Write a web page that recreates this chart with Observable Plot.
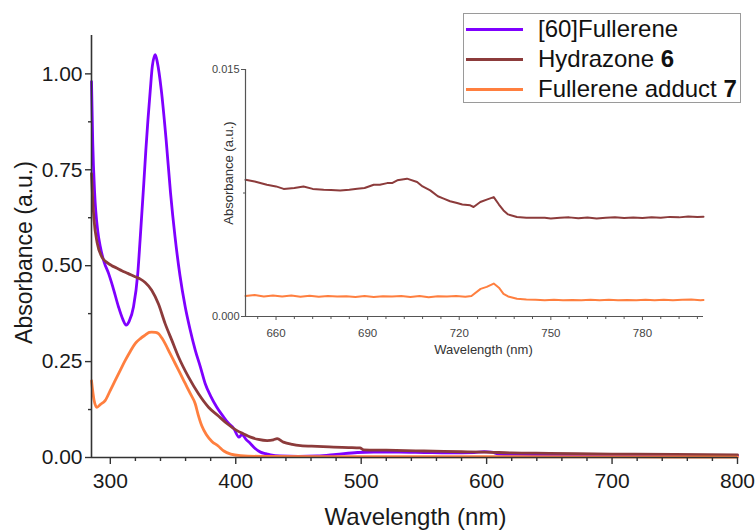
<!DOCTYPE html>
<html>
<head>
<meta charset="utf-8">
<script src="https://cdn.jsdelivr.net/npm/d3@7"></script>
<script src="https://cdn.jsdelivr.net/npm/@observablehq/plot@0.6"></script>
<style>
  html, body { margin: 0; padding: 0; background: #fff; }
  #wrap { position: relative; width: 756px; height: 531px; font-family: "Liberation Sans", Arial, sans-serif; }
  #wrap svg { position: absolute; overflow: visible; }
  #legend { position: absolute; left: 463px; top: 13px; width: 278px; height: 90px; border: 1px solid #9a9a9a; box-sizing: border-box; background: #fff; }
  .row { height: 30px; display: flex; align-items: center; font-size: 24px; color: #111; white-space: nowrap; }
  .sw { width: 57px; height: 3px; margin-left: 2px; margin-right: 15px; }
</style>
</head>
<body>
<div id="wrap"></div>
<script>
// ---------- data ----------
const seriesNames = ["[60]Fullerene", "Hydrazone 6", "Fullerene adduct 7"];
const seriesColors = ["#7f00ff", "#8c3b3b", "#ff7f3f"];

const fullereneNm = [285, 286, 287.5, 290, 292, 295, 298.6, 302, 306.5, 310, 312.6, 315, 318.5, 321.9, 323.8, 326.7, 328.3, 330, 331.8, 333.5, 335.8, 337.5, 340.6, 344.5, 348, 351.6, 355.5, 359.7, 363.5, 367.7, 371.9, 375.6, 380, 384.9, 390.5, 394, 398.5, 402.5, 405, 408, 411.8, 415, 419.7, 424, 427.7, 435, 450, 465, 480, 497, 510, 530, 550, 570, 590, 598, 604, 610, 625, 650, 700, 750, 800];
const fullereneAbs = [0.98, 0.82, 0.69, 0.59, 0.55, 0.51, 0.48, 0.445, 0.393, 0.36, 0.345, 0.355, 0.393, 0.48, 0.57, 0.715, 0.8, 0.88, 0.955, 1.02, 1.05, 1.03, 0.959, 0.828, 0.69, 0.575, 0.475, 0.393, 0.335, 0.28, 0.235, 0.193, 0.16, 0.131, 0.105, 0.09, 0.075, 0.053, 0.06, 0.048, 0.036, 0.025, 0.014, 0.01, 0.007, 0.004, 0.003, 0.004, 0.008, 0.013, 0.014, 0.014, 0.013, 0.012, 0.013, 0.015, 0.014, 0.009, 0.008, 0.007, 0.006, 0.005, 0.005];

const hydrazoneNm = [285, 286, 287, 289.5, 293.2, 297.5, 301.2, 305, 309.2, 314, 319.8, 324, 327.8, 333, 338.4, 343.7, 349, 354.4, 362.3, 370.3, 378.3, 386.2, 393.2, 401, 406, 411.8, 418, 425, 430, 433, 438, 445, 451.6, 465, 478, 490, 499, 502, 520, 550, 580, 600, 620, 650, 700, 750, 800];
const hydrazoneAbs = [0.74, 0.67, 0.62, 0.56, 0.523, 0.508, 0.5, 0.494, 0.487, 0.48, 0.471, 0.465, 0.456, 0.436, 0.4, 0.349, 0.306, 0.262, 0.21, 0.166, 0.131, 0.108, 0.088, 0.07, 0.062, 0.053, 0.047, 0.044, 0.046, 0.049, 0.04, 0.034, 0.031, 0.029, 0.027, 0.026, 0.025, 0.02, 0.019, 0.017, 0.015, 0.014, 0.012, 0.011, 0.009, 0.008, 0.007];

const adductNm = [285, 287, 289.3, 292, 296, 300, 303.9, 308, 311.9, 316, 319.8, 324, 327.8, 331, 333, 336, 338.4, 341, 343.7, 347.5, 351.7, 355.7, 359.7, 363.7, 367.7, 370, 373, 376.5, 381, 386, 390.5, 396, 403.8, 420, 500, 600, 700, 800];
const adductAbs = [0.2, 0.15, 0.131, 0.138, 0.149, 0.175, 0.201, 0.228, 0.253, 0.277, 0.297, 0.31, 0.319, 0.326, 0.327, 0.326, 0.323, 0.312, 0.297, 0.272, 0.245, 0.219, 0.193, 0.167, 0.14, 0.112, 0.082, 0.06, 0.042, 0.03, 0.017, 0.009, 0.005, 0.003, 0.002, 0.002, 0.0015, 0.001];

// inset (650–800 nm)
const insetHydrazoneNm = [650, 653, 657, 660, 662.5, 666, 669, 672, 675.6, 678, 681, 684, 686.6, 689, 692, 694, 696.4, 698, 699.7, 702.9, 706.2, 708, 710.5, 713, 714.9, 717, 719.3, 721, 723.6, 724.7, 726.9, 729, 731.3, 733, 734.5, 736, 738.9, 742, 745.5, 748, 750, 753, 756, 759, 762, 765, 768, 771, 774, 777, 780, 783, 786, 789, 792, 795, 798, 800];
const insetHydrazoneAbs = [0.0083, 0.0082, 0.008, 0.0079, 0.00775, 0.0078, 0.0079, 0.00775, 0.0077, 0.00768, 0.00765, 0.0077, 0.00776, 0.0078, 0.008, 0.008, 0.0081, 0.0081, 0.00827, 0.00837, 0.00817, 0.0079, 0.00766, 0.0073, 0.00716, 0.007, 0.00689, 0.0068, 0.00675, 0.00665, 0.00695, 0.0071, 0.00725, 0.0068, 0.00644, 0.0062, 0.00604, 0.006, 0.006, 0.006, 0.00595, 0.006, 0.00602, 0.00597, 0.00601, 0.00595, 0.006, 0.00603, 0.00598, 0.00601, 0.00598, 0.00603, 0.006, 0.00605, 0.00602, 0.00607, 0.00604, 0.00606];

const insetAdductNm = [650, 653, 656, 659, 662, 665, 668, 671, 674, 677, 680, 683, 686, 689, 692, 695, 698, 701, 704, 707, 710, 713, 716, 719, 722, 724, 727, 729, 731.3, 733, 734.5, 736, 738.9, 742, 745, 748, 751, 754, 757, 760, 763, 766, 769, 772, 775, 778, 781, 784, 787, 790, 793, 796, 799, 800];
const insetAdductAbs = [0.00125, 0.0013, 0.00122, 0.00128, 0.00122, 0.00127, 0.0012, 0.00126, 0.0012, 0.00124, 0.00121, 0.00123, 0.00118, 0.00124, 0.00119, 0.00123, 0.00121, 0.00124, 0.00119, 0.00124, 0.00117, 0.00123, 0.00121, 0.00124, 0.0012, 0.00125, 0.00168, 0.0018, 0.002, 0.00175, 0.00138, 0.00122, 0.00108, 0.00103, 0.00101, 0.00098, 0.00101, 0.00098, 0.001, 0.00098, 0.00101, 0.00099, 0.00101, 0.00098, 0.001, 0.00098, 0.00101, 0.00099, 0.00102, 0.00099, 0.00101, 0.00103, 0.00099, 0.001];

const mainXTicks = [300, 400, 500, 600, 700, 800];
const mainXMinor = d3.range(300, 801, 20);
const mainYTicks = [0, 0.25, 0.5, 0.75, 1.0];
const mainYMinor = [0.125, 0.375, 0.625, 0.875];
const insetXTicks = [660, 690, 720, 750, 780];
const insetXMinor = d3.range(654, 800, 6);
const insetYTicks = [0, 0.015];
const insetYMinor = [0.0075];

// ---------- build tables ----------
const toRows = (nm, ab, s) => nm.map((x, i) => ({nm: x, a: ab[i], s}));
const mainData = [
  ...toRows(fullereneNm, fullereneAbs, seriesNames[0]),
  ...toRows(hydrazoneNm, hydrazoneAbs, seriesNames[1]),
  ...toRows(adductNm, adductAbs, seriesNames[2])
];
const insetData = [
  ...toRows(insetHydrazoneNm, insetHydrazoneAbs, seriesNames[1]),
  ...toRows(insetAdductNm, insetAdductAbs, seriesNames[2])
];
const color = {domain: seriesNames, range: seriesColors};
const axisColor = "#333";
const font = "Liberation Sans, Arial, sans-serif";

const main = Plot.plot({
  width: 756, height: 531,
  marginLeft: 91, marginRight: 19, marginTop: 35, marginBottom: 74,
  style: {fontFamily: font, color: "#1a1a1a", background: "transparent"},
  x: {domain: [285, 800]},
  y: {domain: [0, 1.1]},
  color,
  marks: [
    Plot.lineY(mainData, {x: "nm", y: "a", z: "s", stroke: "s", strokeWidth: 2.8, curve: "monotone-x"}),
    Plot.ruleY([0], {stroke: axisColor, strokeWidth: 1.6}),
    Plot.ruleX([285], {stroke: axisColor, strokeWidth: 1.6}),
    Plot.axisX({ticks: mainXTicks, tickSize: 7, tickPadding: 9, fontSize: 21, label: null, stroke: axisColor, strokeWidth: 1.4}),
    Plot.axisX({ticks: mainXMinor.filter(d => !mainXTicks.includes(d)), tickSize: 4, tickFormat: () => "", label: null, stroke: axisColor, strokeWidth: 1.4}),
    Plot.axisY({ticks: mainYTicks, tickSize: 6, tickPadding: 3, fontSize: 21, tickFormat: d3.format(".2f"), label: null, stroke: axisColor, strokeWidth: 1.4}),
    Plot.axisY({ticks: mainYMinor, tickSize: 3, tickFormat: () => "", label: null, stroke: axisColor, strokeWidth: 1.4}),
    Plot.text(["Wavelength (nm)"], {frameAnchor: "bottom", textAnchor: "middle", dx: 1, dy: 60, fontSize: 24, lineAnchor: "middle", fill: "#1a1a1a"}),
    Plot.text(["Absorbance (a.u.)"], {frameAnchor: "left", textAnchor: "middle", rotate: -90, dx: -67, dy: 6, fontSize: 23, lineAnchor: "middle", fill: "#1a1a1a"})
  ]
});
main.style.left = "0px"; main.style.top = "0px";

const inset = Plot.plot({
  width: 520, height: 310,
  marginLeft: 45, marginRight: 17, marginTop: 19, marginBottom: 44,
  style: {fontFamily: font, color: "#444", background: "transparent"},
  x: {domain: [650, 800]},
  y: {domain: [0, 0.015]},
  color,
  marks: [
    Plot.lineY(insetData, {x: "nm", y: "a", z: "s", stroke: "s", strokeWidth: 2, curve: "linear"}),
    Plot.ruleY([0], {stroke: "#555", strokeWidth: 1.2}),
    Plot.ruleX([650], {stroke: "#555", strokeWidth: 1.2}),
    Plot.axisX({ticks: insetXTicks, tickSize: 4, tickPadding: 8, fontSize: 11.5, label: null, stroke: "#555"}),
    Plot.axisX({ticks: insetXMinor.filter(d => !insetXTicks.includes(d)), tickSize: 3, tickFormat: () => "", label: null, stroke: "#555"}),
    Plot.axisY({ticks: insetYTicks, tickSize: 4, tickPadding: 2, fontSize: 11, tickFormat: d3.format(".3f"), label: null, stroke: "#555"}),
    Plot.axisY({ticks: insetYMinor, tickSize: 2, tickFormat: () => "", label: null, stroke: "#555"}),
    Plot.text(["Wavelength (nm)"], {frameAnchor: "bottom", textAnchor: "middle", dx: 9, dy: 33, fontSize: 13, lineAnchor: "middle", fill: "#333"}),
    Plot.text(["Absorbance (a.u.)"], {frameAnchor: "left", textAnchor: "middle", rotate: -90, dx: -17, dy: -20, fontSize: 13, lineAnchor: "middle", fill: "#333"})
  ]
});
inset.style.left = "200px"; inset.style.top = "50px";

const wrap = document.getElementById("wrap");
wrap.appendChild(main);
wrap.appendChild(inset);

// legend
const legend = document.createElement("div");
legend.id = "legend";
const legendLabels = [["[60]Fullerene", ""], ["Hydrazone ", "6"], ["Fullerene adduct ", "7"]];
legendLabels.forEach(([t, b], i) => {
  const row = document.createElement("div");
  row.className = "row";
  const sw = document.createElement("span");
  sw.className = "sw";
  sw.style.background = seriesColors[i];
  row.appendChild(sw);
  const txt = document.createElement("span");
  txt.textContent = t;
  if (b) { const bb = document.createElement("b"); bb.textContent = b; txt.appendChild(bb); }
  row.appendChild(txt);
  legend.appendChild(row);
});
wrap.appendChild(legend);
</script>
</body>
</html>
